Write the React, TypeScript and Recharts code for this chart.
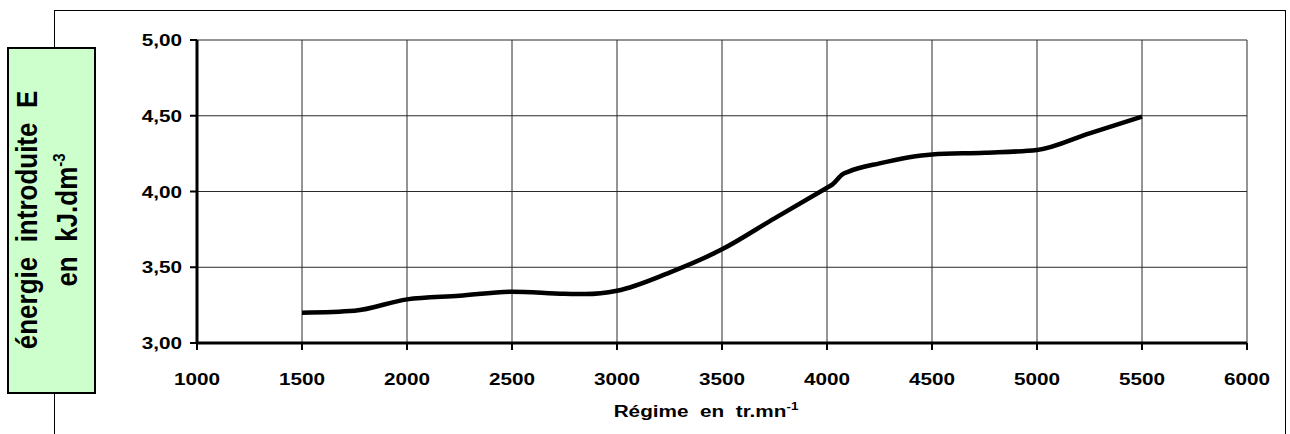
import React from "react";
import { LineChart, Line, XAxis, YAxis, CartesianGrid } from "recharts";

// Engine speed (tr/mn) and energy introduced (kJ/dm³)
const regime = [1500, 1750, 2000, 2250, 2500, 2750, 2850, 3000, 3250, 3500, 3750, 4000, 4025, 4075, 4100, 4250, 4500, 4750, 5000, 5250, 5500];
const energie = [3.2, 3.213, 3.288, 3.312, 3.339, 3.325, 3.323, 3.345, 3.465, 3.618, 3.823, 4.025, 4.045, 4.115, 4.13, 4.186, 4.245, 4.256, 4.274, 4.384, 4.494];

const xTicks = [1000, 1500, 2000, 2500, 3000, 3500, 4000, 4500, 5000, 5500, 6000];
const yTicks = [3, 3.5, 4, 4.5, 5];

const yTitleLine1 = "énergie  introduite  E";
const yTitleLine2 = "en  kJ.dm";
const yTitleSup = "-3";
const xTitle = "Régime  en  tr.mn";
const xTitleSup = "-1";

const data = regime.map((r, i) => ({ regime: r, energie: energie[i] }));

const FONT = "'Liberation Sans', Arial, sans-serif";
const STRETCH = 1.22;

const fmtComma = (v: number) => v.toFixed(2).replace(".", ",");

const YTick = (props: any) => {
  const { x, y, payload } = props;
  return (
    <text
      transform={`translate(${x},${y}) scale(${STRETCH},1)`}
      x={0}
      y={0}
      dy={6}
      textAnchor="end"
      fontFamily={FONT}
      fontWeight="bold"
      fontSize={17}
      fill="#000"
    >
      {fmtComma(payload.value)}
    </text>
  );
};

const XTick = (props: any) => {
  const { x, y, payload } = props;
  return (
    <text
      transform={`translate(${x},${y}) scale(${STRETCH},1)`}
      x={0}
      y={0}
      dy={15}
      textAnchor="middle"
      fontFamily={FONT}
      fontWeight="bold"
      fontSize={17}
      fill="#000"
    >
      {String(payload.value)}
    </text>
  );
};

export default function App() {
  return (
    <div style={{ position: "absolute", left: 0, top: 0, width: 1290, height: 434, background: "#fff" }}>
      <svg width={1290} height={434} style={{ position: "absolute", left: 0, top: 0 }}>
        <rect x={54.5} y={10.5} width={1231} height={500} fill="#fff" stroke="#000" strokeWidth={1} />
      </svg>
      <div style={{ position: "absolute", left: 0, top: 0 }}>
        <LineChart
          width={1290}
          height={434}
          data={data}
          margin={{ top: 40, right: 43, bottom: 31, left: 137 }}
        >
          <CartesianGrid stroke="#2a2a2a" strokeWidth={1} fill="none" />
          <XAxis
            dataKey="regime"
            type="number"
            domain={[1000, 6000]}
            ticks={xTicks}
            interval={0}
            height={60}
            tickSize={7}
            tickMargin={20}
            axisLine={{ stroke: "#000", strokeWidth: 3 }}
            tickLine={{ stroke: "#000", strokeWidth: 2 }}
            tick={<XTick />}
          />
          <YAxis
            type="number"
            domain={[3, 5]}
            ticks={yTicks}
            interval={0}
            width={60}
            tickSize={7}
            tickMargin={8}
            axisLine={{ stroke: "#000", strokeWidth: 3 }}
            tickLine={{ stroke: "#000", strokeWidth: 2 }}
            tick={<YTick />}
          />
          <Line
            type="monotone"
            dataKey="energie"
            stroke="#000"
            strokeWidth={4.5}
            dot={false}
            isAnimationActive={false}
          />
        </LineChart>
      </div>
      <svg width={1290} height={434} style={{ position: "absolute", left: 0, top: 0, pointerEvents: "none" }}>
        <rect x={8} y={48} width={87} height={345} fill="#ccffcc" stroke="#000" strokeWidth={2} />
        <g transform="translate(0,220) scale(1.13,1) rotate(-90)" fontFamily={FONT} fontWeight="bold" fill="#000">
          <text x={0} y={32.7} textAnchor="middle" fontSize={26} style={{ whiteSpace: "pre" }}>
            {yTitleLine1}
          </text>
          <text x={0} y={68.1} textAnchor="middle" fontSize={26} style={{ whiteSpace: "pre" }}>
            {yTitleLine2}
            <tspan fontSize={15} dy={-11}>{yTitleSup}</tspan>
          </text>
        </g>
        <g transform={`translate(706,417) scale(${STRETCH},1)`} fontFamily={FONT} fontWeight="bold" fill="#000">
          <text x={0} y={0} textAnchor="middle" fontSize={17} style={{ whiteSpace: "pre" }}>
            {xTitle}
            <tspan fontSize={11} dy={-7}>{xTitleSup}</tspan>
          </text>
        </g>
      </svg>
    </div>
  );
}
